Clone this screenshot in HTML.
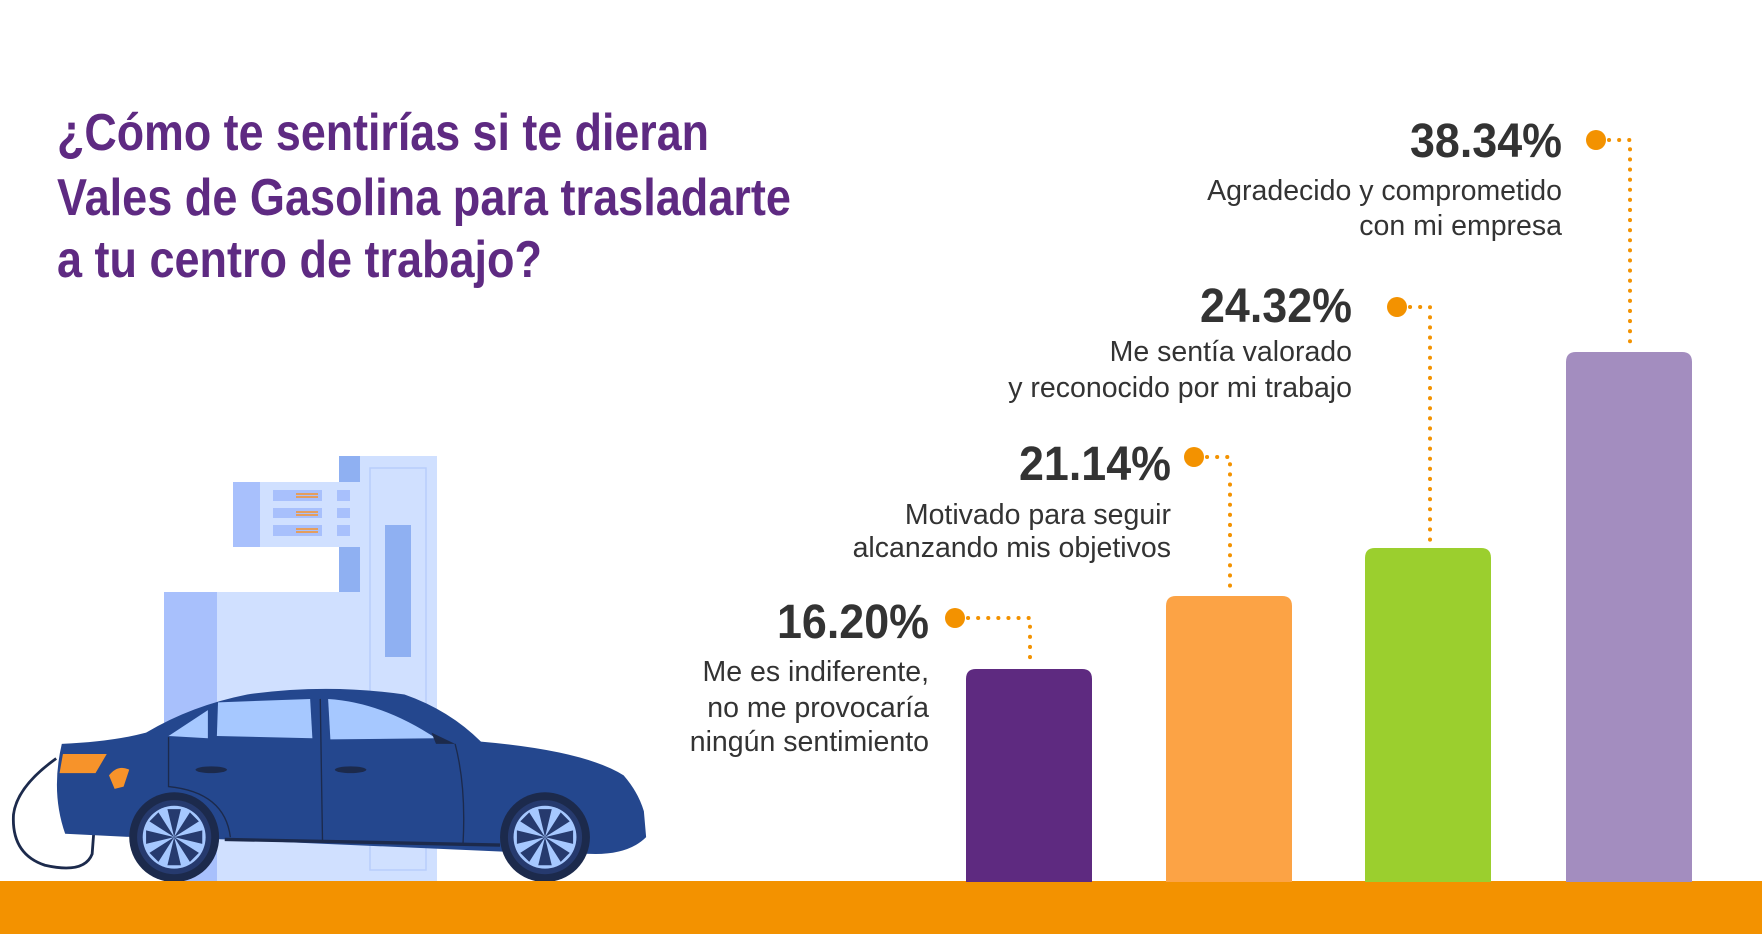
<!DOCTYPE html>
<html><head><meta charset="utf-8"><style>html,body{margin:0;padding:0;background:#fff}svg{display:block}</style></head>
<body>
<svg width="1762" height="934" viewBox="0 0 1762 934" xmlns="http://www.w3.org/2000/svg">
<rect width="1762" height="934" fill="#fff"/>
<g font-family="Liberation Sans, sans-serif" font-weight="bold" fill="#5e2a82" font-size="52">
<text x="57" y="150" textLength="652" lengthAdjust="spacingAndGlyphs">¿Cómo te sentirías si te dieran</text>
<text x="57" y="215" textLength="734" lengthAdjust="spacingAndGlyphs">Vales de Gasolina para trasladarte</text>
<text x="57" y="277" textLength="485" lengthAdjust="spacingAndGlyphs">a tu centro de trabajo?</text>
</g>
<rect x="164" y="592" width="196" height="290" fill="#d0e0ff"/>
<rect x="164" y="592" width="53" height="290" fill="#a8c0fc"/>
<rect x="360" y="456" width="77" height="426" fill="#d0e0ff"/>
<rect x="370" y="468" width="56" height="402" fill="none" stroke="#b8cdfc" stroke-width="1.5"/>
<rect x="385" y="525" width="26" height="132" fill="#8fb0f2"/>
<rect x="339" y="456" width="21" height="26" fill="#8fb0f2"/>
<rect x="339" y="547" width="21" height="45" fill="#8fb0f2"/>
<rect x="233" y="482" width="127" height="65" fill="#d0e0ff"/>
<rect x="233" y="482" width="27" height="65" fill="#a8c0fc"/>
<g fill="#a8c0fc"><rect x="273" y="490" width="49" height="11"/><rect x="273" y="508" width="49" height="10"/><rect x="273" y="525" width="49" height="11"/>
<rect x="337" y="490" width="13" height="11"/><rect x="337" y="508" width="13" height="10"/><rect x="337" y="525" width="13" height="11"/></g>
<g stroke="#f7932a" stroke-width="1.5"><path d="M296 494h22M296 497h22M296 512h22M296 515h22M296 529h22M296 532h22"/></g>
<g transform="scale(1.1237)">
<path d="M50,675 Q15,700 12,725 Q10,760 40,770 Q75,778 82,760 L85,720 Q90,700 100,690" fill="none" stroke="#1c2a4c" stroke-width="2.5"/>
<path d="M55,662 Q100,660 130,652 Q170,628 220,618 Q290,608 360,618 Q400,632 428,660 Q520,668 555,690 Q568,705 573,722 L575,745 Q560,760 530,760 L450,758 L200,747 L120,745 L58,742 Q45,705 55,662 Z" fill="#24478e"/>
<path d="M150,655 L185,632 L185,657 Z" fill="#a6c8ff"/>
<path d="M194,625 L276,622 L278,657 L193,655 Z" fill="#a6c8ff"/>
<path d="M292,622 Q340,625 388,657 L294,658 Z" fill="#a6c8ff"/>
<path d="M384,652 L405,662 L388,662 Z" fill="#1c2a4c"/>
<path d="M56,671 L95,671 L85,688 L53,688 Z" fill="#f7932a"/>
<path d="M200,747 L445,752" stroke="#1c2a4c" stroke-width="3"/>
<path d="M285,622 L287,748 M150,656 L150,700 Q200,705 205,745 M405,662 Q415,700 412,752" fill="none" stroke="#1c2a4c" stroke-width="1.2"/>
<ellipse cx="188" cy="685" rx="14" ry="3" fill="#1c2a4c"/><ellipse cx="312" cy="685" rx="14" ry="3" fill="#1c2a4c"/>
<path d="M97,690 Q105,680 115,685 L110,700 L102,702 Z" fill="#f7932a"/>
<circle cx="155" cy="745" r="40" fill="#1c2a4c"/><circle cx="155" cy="745" r="33" fill="#263a6e"/><circle cx="155" cy="745" r="28" fill="#a6c8ff"/>
<circle cx="485" cy="745" r="40" fill="#1c2a4c"/><circle cx="485" cy="745" r="33" fill="#263a6e"/><circle cx="485" cy="745" r="28" fill="#a6c8ff"/>
<g fill="#263a6e"><path d="M155,745 l-6,-25 h12 Z M155,745 l6,25 h-12 Z M155,745 l-25,-6 v12 Z M155,745 l25,6 v-12 Z M155,745 l-22,-14 l8,-8 Z M155,745 l22,14 l-8,8 Z M155,745 l14,-22 l8,8 Z M155,745 l-14,22 l-8,-8 Z"/>
<path d="M485,745 l-6,-25 h12 Z M485,745 l6,25 h-12 Z M485,745 l-25,-6 v12 Z M485,745 l25,6 v-12 Z M485,745 l-22,-14 l8,-8 Z M485,745 l22,14 l-8,8 Z M485,745 l14,-22 l8,8 Z M485,745 l-14,22 l-8,-8 Z"/></g>
</g>
<rect x="0" y="881" width="1762" height="53" fill="#f39200"/>
<path d="M966,882 V679 Q966,669 976,669 H1082 Q1092,669 1092,679 V882Z" fill="#5e2a80"/>
<path d="M1166,882 V606 Q1166,596 1176,596 H1282 Q1292,596 1292,606 V882Z" fill="#fca345"/>
<path d="M1365,882 V558 Q1365,548 1375,548 H1481 Q1491,548 1491,558 V882Z" fill="#9bcf2e"/>
<path d="M1566,882 V362 Q1566,352 1576,352 H1682 Q1692,352 1692,362 V882Z" fill="#a38dbf"/>
<g fill="none" stroke="#f39200" stroke-width="4" stroke-linecap="round" stroke-dasharray="0.1 10">
<path d="M968,618 H1030 V665"/>
<path d="M1207,457 H1230 V592"/>
<path d="M1410,307 H1430 V544"/>
<path d="M1609,140 H1630 V348"/>
</g>
<g fill="#f39200"><circle cx="955" cy="618" r="10"/><circle cx="1194" cy="457" r="10"/><circle cx="1397" cy="307" r="10"/><circle cx="1596" cy="140" r="10"/></g>
<g font-family="Liberation Sans, sans-serif" fill="#333" text-anchor="end">
<g font-weight="bold" font-size="48">
<text x="1562" y="157" textLength="152" lengthAdjust="spacingAndGlyphs">38.34%</text>
<text x="1352" y="322" textLength="152" lengthAdjust="spacingAndGlyphs">24.32%</text>
<text x="1171" y="480" textLength="152" lengthAdjust="spacingAndGlyphs">21.14%</text>
<text x="929" y="638" textLength="152" lengthAdjust="spacingAndGlyphs">16.20%</text>
</g>
<g font-size="28.5">
<text x="1562" y="200">Agradecido y comprometido</text>
<text x="1562" y="235">con mi empresa</text>
<text x="1352" y="361">Me sentía valorado</text>
<text x="1352" y="397">y reconocido por mi trabajo</text>
<text x="1171" y="524">Motivado para seguir</text>
<text x="1171" y="557">alcanzando mis objetivos</text>
<text x="929" y="681">Me es indiferente,</text>
<text x="929" y="717">no me provocaría</text>
<text x="929" y="751">ningún sentimiento</text>
</g>
</g>
</svg>
</body></html>
